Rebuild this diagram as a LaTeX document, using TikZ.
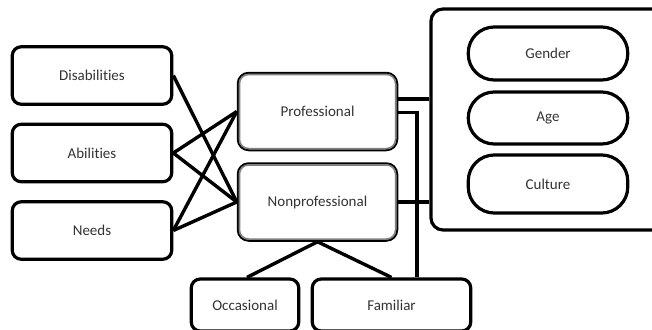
\documentclass[tikz,border=0pt]{standalone}
\usepackage{fontspec}
\setmainfont[Ligatures=NoCommon]{Carlito}
\usetikzlibrary{calc}
\definecolor{txt}{HTML}{333333}
\tikzset{
  lbl/.style={text=txt,font=\fontsize{15}{18}\selectfont,inner sep=0pt},
  box/.style={lbl,draw=black,line width=3.2pt,rounded corners=9pt,minimum width=#1},
  box/.default=159.5pt,
  dblbox/.style={lbl,draw=black,line width=2pt,rounded corners=11pt,minimum width=159.5pt,minimum height=77.5pt},
  innerline/.style={draw=black!50,line width=1.6pt,rounded corners=9pt},
  pill/.style={lbl,draw=black,line width=3.2pt,rounded corners=26pt,minimum width=159.5pt},
  conn/.style={draw=black,line width=3.4pt},
}
\begin{document}
\begin{tikzpicture}[x=1pt,y=-1pt]
\useasboundingbox (0,0) rectangle (652,329);
\clip (0,0) rectangle (652,329);
\fill[white] (0,0) rectangle (652,329);
\node[box,minimum height=57.5pt] (dis) at (92,75.5) {Disabilities};
\node[box,minimum height=57.5pt] (abi) at (92,153) {Abilities};
\node[box,minimum height=57.5pt] (nee) at (92,230.5) {Needs};
\node[dblbox] (pro) at (317.5,111.5) {Professional};
\node[dblbox] (non) at (317.5,202) {Nonprofessional};
\draw[innerline] ($(pro.north west)+(2.7,2.7)$) rectangle ($(pro.south east)+(-2.7,-2.7)$);
\draw[innerline] ($(non.north west)+(2.7,2.7)$) rectangle ($(non.south east)+(-2.7,-2.7)$);
\node[box=240pt,minimum height=221pt,rounded corners=12pt] (big) at (551,119.5) {};
\node[pill,minimum height=53pt] (gen) at (548,53.5) {Gender};
\node[pill,minimum height=52pt] (age) at (548,118) {Age};
\node[pill,minimum height=58pt] (cul) at (548,184) {Culture};
\node[box=107.5pt,minimum height=52pt] (occ) at (245,305) {Occasional};
\node[box=158.5pt,minimum height=52pt] (fam) at (391.5,305) {Familiar};
\draw[conn] (dis.east) -- (non.west);
\draw[conn] (abi.east) -- (pro.west);
\draw[conn] (abi.east) -- (non.west);
\draw[conn] (nee.east) -- (pro.west);
\draw[conn] (nee.east) -- (non.west);
\coordinate (pa) at ($(pro.east)+(0,-12.5)$);
\coordinate (pb) at ($(pro.east)+(0,1)$);
\coordinate (fa) at ($(fam.north)+(25.5,0)$);
\draw[conn] (pa) -- (pa -| big.west);
\draw[conn] (pb) -- (pb -| fa) -- (fa);
\draw[conn] (non.east) -- (non.east -| big.west);
\draw[conn] (non.south) -- ($(occ.north)+(2,0)$);
\draw[conn] (non.south) -- (fam.north);
\end{tikzpicture}
\end{document}
